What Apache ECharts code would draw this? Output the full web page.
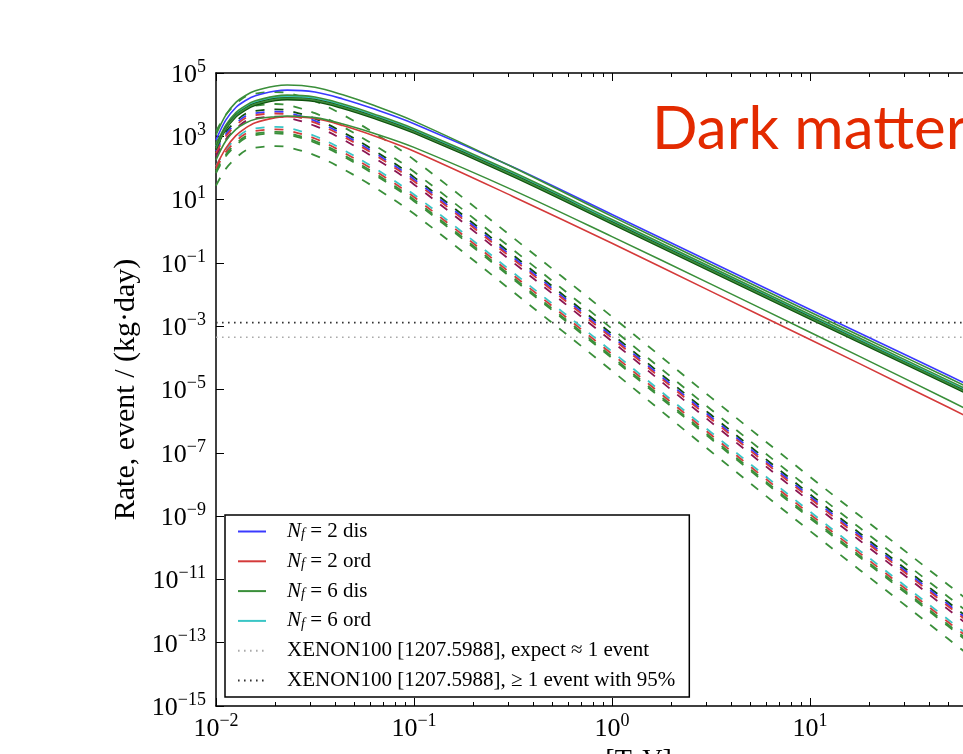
<!DOCTYPE html>
<html>
<head>
<meta charset="utf-8">
<script src="https://cdn.jsdelivr.net/npm/echarts@6/dist/echarts.min.js"></script>
<style>
html,body{margin:0;padding:0;background:#fff;}
#chart{width:963px;height:754px;}
</style>
</head>
<body>
<div id="chart"></div>
<script>
// ---- data ----
// dark matter mass, TeV
const massTeV = [0.01, 0.0112, 0.0126, 0.0141, 0.0158, 0.0200, 0.0229, 0.0316, 0.0437, 0.0631, 0.1, 0.316, 1, 3.16, 10, 31.6, 100];

// solid curves: log10 of rate, event/(kg·day)
const solidGreenTop   = [3.04, 3.67, 4.07, 4.29, 4.44, 4.59, 4.62, 4.55, 4.31, 3.97, 3.48, 2.02, 0.47, -1.05, -2.55, -4.04, -5.53];
const solidBlue       = [2.88, 3.51, 3.91, 4.13, 4.28, 4.43, 4.46, 4.40, 4.18, 3.86, 3.40, 2.03, 0.53, -0.97, -2.47, -3.96, -5.45];
const solidGreenBand  = [2.72, 3.35, 3.75, 3.97, 4.12, 4.27, 4.30, 4.24, 4.02, 3.70, 3.24, 1.87, 0.37, -1.13, -2.63, -4.12, -5.61];
const solidCyan       = [2.68, 3.31, 3.71, 3.93, 4.08, 4.23, 4.26, 4.20, 3.98, 3.66, 3.20, 1.83, 0.33, -1.17, -2.67, -4.16, -5.65];
const solidDkGreen1   = [2.64, 3.27, 3.67, 3.89, 4.04, 4.19, 4.22, 4.16, 3.94, 3.62, 3.16, 1.79, 0.29, -1.21, -2.71, -4.20, -5.69];
const solidMaroon     = [2.61, 3.24, 3.64, 3.86, 4.01, 4.16, 4.19, 4.13, 3.91, 3.59, 3.13, 1.76, 0.26, -1.24, -2.74, -4.23, -5.72];
const solidDkGreen2   = [2.58, 3.21, 3.61, 3.83, 3.98, 4.13, 4.16, 4.10, 3.88, 3.56, 3.10, 1.73, 0.23, -1.27, -2.77, -4.26, -5.75];
const solidGreenBand2 = [2.62, 3.25, 3.65, 3.87, 4.02, 4.17, 4.20, 4.14, 3.92, 3.60, 3.14, 1.77, 0.27, -1.23, -2.73, -4.22, -5.71];
const solidGreenLow   = [2.25, 2.85, 3.22, 3.42, 3.54, 3.62, 3.64, 3.59, 3.39, 3.09, 2.65, 1.30, -0.17, -1.67, -3.19, -4.72, -6.27];
const solidRedLow     = [2.04, 2.62, 3.02, 3.26, 3.43, 3.59, 3.62, 3.56, 3.34, 3.01, 2.53, 1.10, -0.38, -1.90, -3.42, -4.95, -6.50];

// dashed curves: log10 of rate
const dashGreen1  = [3.15, 3.68, 4.02, 4.26, 4.35, 4.40, 4.37, 4.11, 3.68, 3.10, 2.26, -0.20, -2.70, -5.25, -7.76, -10.20, -12.65];
const dashGreen2  = [2.77, 3.30, 3.64, 3.88, 3.97, 4.02, 3.99, 3.73, 3.30, 2.72, 1.88, -0.58, -3.08, -5.63, -8.14, -10.58, -13.03];
const dashDkGreen = [2.60, 3.13, 3.47, 3.71, 3.80, 3.85, 3.82, 3.56, 3.13, 2.55, 1.71, -0.75, -3.25, -5.80, -8.31, -10.75, -13.20];
const dashBlue    = [2.53, 3.06, 3.40, 3.64, 3.73, 3.78, 3.75, 3.49, 3.06, 2.48, 1.64, -0.82, -3.32, -5.87, -8.38, -10.82, -13.27];
const dashRed1    = [2.47, 3.00, 3.34, 3.58, 3.67, 3.72, 3.69, 3.43, 3.00, 2.42, 1.58, -0.88, -3.38, -5.93, -8.44, -10.88, -13.33];
const dashMaroon  = [2.37, 2.90, 3.24, 3.48, 3.57, 3.62, 3.59, 3.33, 2.90, 2.32, 1.48, -0.98, -3.48, -6.03, -8.54, -10.98, -13.43];
const dashCyan    = [2.05, 2.58, 2.92, 3.16, 3.25, 3.30, 3.27, 3.01, 2.58, 2.00, 1.16, -1.30, -3.80, -6.35, -8.86, -11.30, -13.75];
const dashRed2    = [1.97, 2.50, 2.84, 3.08, 3.17, 3.22, 3.19, 2.93, 2.50, 1.92, 1.08, -1.38, -3.88, -6.43, -8.94, -11.38, -13.83];
const dashGreen3  = [1.89, 2.42, 2.76, 3.00, 3.09, 3.14, 3.11, 2.85, 2.42, 1.84, 1.00, -1.46, -3.96, -6.51, -9.02, -11.46, -13.91];
const dashGreen4  = [1.84, 2.37, 2.71, 2.95, 3.04, 3.09, 3.06, 2.80, 2.37, 1.79, 0.95, -1.51, -4.01, -6.56, -9.07, -11.51, -13.96];
const dashGreen5  = [1.44, 1.97, 2.31, 2.55, 2.64, 2.69, 2.66, 2.40, 1.97, 1.39, 0.55, -1.91, -4.41, -6.96, -9.47, -11.91, -14.36];

// XENON100 limits, event/(kg·day)
const xenonExpect1 = 4.5e-4;
const xenon95      = 1.3e-3;

// axis ticks
const xMajorTicks = [0.01, 0.1, 1, 10, 100];
const xMinorTicks = [0.02,0.03,0.04,0.05,0.06,0.07,0.08,0.09,
                     0.2,0.3,0.4,0.5,0.6,0.7,0.8,0.9,
                     2,3,4,5,6,7,8,9,
                     20,30,40,50,60,70,80,90];
const yMajorTicks = [1e-15,1e-13,1e-11,1e-9,1e-7,1e-5,1e-3,1e-1,1e1,1e3,1e5];

const legendNames = {
  nf2dis: '{g|}{it|N}{sub|f}{t| = 2 dis}',
  nf2ord: '{g|}{it|N}{sub|f}{t| = 2 ord}',
  nf6dis: '{g|}{it|N}{sub|f}{t| = 6 dis}',
  nf6ord: '{g|}{it|N}{sub|f}{t| = 6 ord}',
  xe1:    '{g|}{t|XENON100 [1207.5988], expect ≈ 1 event}',
  xe95:   '{g|}{t|XENON100 [1207.5988], ≥ 1 event with 95%}'
};

// ---- colours ----
const C = {
  blue: '#3a3aff', red: '#d43a3a', green: '#3a8f3a', cyan: '#3ac6c6',
  dkgreen: '#0d520d', maroon: '#8a1552', xeLight: '#aaaaaa', xeDark: '#333333'
};

function toData(logs){ return massTeV.map((m,i)=>[m, Math.pow(10, logs[i])]); }
function curve(name, color, logs, dashed, z){
  return {
    type:'line', name:name, data: toData(logs), showSymbol:false, symbol:'none',
    smooth:0.35, silent:true, z: z||2,
    lineStyle:{color:color, width: dashed ? 1.8 : 1.6, type: dashed ? [9,10] : 'solid'},
    itemStyle:{color:color}
  };
}
function hline(name, color, v){
  return {
    type:'line', name:name, data:[[0.01, v],[100, v]], showSymbol:false, symbol:'none', silent:true, z:1,
    lineStyle:{color:color, width:1.6, type:[1.6,4.4]}, itemStyle:{color:color}
  };
}

const serif = 'Liberation Serif';
function powLabel(value){
  const e = Math.round(Math.log10(value));
  const s = (e < 0 ? '\u2212' + (-e) : String(e));
  return '{b|10}{s|' + s + '}';
}
const powRich = {
  b:{fontFamily:serif, fontSize:26, color:'#000', verticalAlign:'bottom', lineHeight:30},
  s:{fontFamily:serif, fontSize:18, color:'#000', verticalAlign:'top', lineHeight:18}
};

const series = [
  // solid curves
  curve('nf2dis', C.blue, solidBlue, false, 4),
  curve('nf2ord', C.red, solidRedLow, false, 4),
  curve('nf6dis', C.green, solidGreenTop, false, 4),
  curve('nf6ord', C.cyan, solidCyan, false, 4),
  curve('nf6dis', C.green, solidGreenBand, false, 4),
  curve('s_dk1', C.dkgreen, solidDkGreen1, false, 4),
  curve('s_mr', C.maroon, solidMaroon, false, 4),
  curve('s_dk2', C.dkgreen, solidDkGreen2, false, 4),
  curve('nf6dis', C.green, solidGreenBand2, false, 4),
  curve('nf6dis', C.green, solidGreenLow, false, 4),
  // dashed curves
  curve('nf6dis', C.green, dashGreen1, true, 3),
  curve('nf6dis', C.green, dashGreen2, true, 3),
  curve('d_dk', C.dkgreen, dashDkGreen, true, 3),
  curve('nf2dis', C.blue, dashBlue, true, 3),
  curve('nf2ord', C.red, dashRed1, true, 3),
  curve('d_mr', C.maroon, dashMaroon, true, 3),
  curve('nf6ord', C.cyan, dashCyan, true, 3),
  curve('nf2ord', C.red, dashRed2, true, 3),
  curve('nf6dis', C.green, dashGreen3, true, 3),
  curve('nf6dis', C.green, dashGreen4, true, 3),
  curve('nf6dis', C.green, dashGreen5, true, 3),
  // XENON100
  hline('xe1', C.xeLight, xenonExpect1),
  hline('xe95', C.xeDark, xenon95)
];

const baseX = {type:'log', logBase:10, min:0.01, max:100, gridIndex:0, splitLine:{show:false}};
const option = {
  animation:false,
  backgroundColor:'#ffffff',
  grid:{left:216, top:73, width:792, height:633, containLabel:false, outerBoundsMode:'none'},
  xAxis:[
    Object.assign({}, baseX, {
      position:'bottom',
      name:'{it|m}{sub|DM} {t|[TeV]}', nameLocation:'middle', nameGap:38,
      nameTextStyle:{rich:{
        it:{fontFamily:serif, fontStyle:'italic', fontSize:28, color:'#000', lineHeight:30},
        sub:{fontFamily:serif, fontStyle:'italic', fontSize:19, color:'#000', verticalAlign:'bottom', lineHeight:30, padding:[10,0,0,0]},
        t:{fontFamily:serif, fontSize:28, color:'#000', lineHeight:30}
      }},
      axisLine:{show:true, lineStyle:{color:'#000', width:1.5}},
      axisTick:{show:true, inside:true, length:8, lineStyle:{color:'#000', width:1}, customValues:xMajorTicks},
      axisLabel:{show:true, margin:6, formatter:powLabel, rich:powRich, customValues:xMajorTicks}
    }),
    Object.assign({}, baseX, {
      position:'bottom',
      axisLine:{show:false},
      axisTick:{show:true, inside:true, length:4, lineStyle:{color:'#000', width:1}, customValues:xMinorTicks},
      axisLabel:{show:false}
    }),
    Object.assign({}, baseX, {
      position:'top',
      axisLine:{show:true, lineStyle:{color:'#000', width:1.5}},
      axisTick:{show:true, inside:true, length:8, lineStyle:{color:'#000', width:1}, customValues:xMajorTicks},
      axisLabel:{show:false}
    }),
    Object.assign({}, baseX, {
      position:'top',
      axisLine:{show:false},
      axisTick:{show:true, inside:true, length:4, lineStyle:{color:'#000', width:1}, customValues:xMinorTicks},
      axisLabel:{show:false}
    })
  ],
  yAxis:[
    {
      type:'log', logBase:10, min:1e-15, max:1e5, position:'left',
      splitLine:{show:false},
      name:'Rate, event / (kg\u00b7day)', nameLocation:'middle', nameGap:75, nameRotate:90,
      nameTextStyle:{fontFamily:serif, fontSize:30, color:'#000'},
      axisLine:{show:true, lineStyle:{color:'#000', width:1.5}},
      axisTick:{show:true, inside:true, length:8, lineStyle:{color:'#000', width:1}, customValues:yMajorTicks},
      axisLabel:{show:true, margin:10, formatter:powLabel, rich:powRich, customValues:yMajorTicks}
    },
    {
      type:'log', logBase:10, min:1e-15, max:1e5, position:'right',
      splitLine:{show:false},
      axisLine:{show:true, lineStyle:{color:'#000', width:1.5}},
      axisTick:{show:true, inside:true, length:8, customValues:yMajorTicks},
      axisLabel:{show:false}
    }
  ],
  legend:{
    show:true, orient:'vertical', left:225, top:515,
    data:['nf2dis','nf2ord','nf6dis','nf6ord','xe1','xe95'],
    selectedMode:false,
    itemWidth:28, itemHeight:14, itemGap:8.8,
    itemStyle:{opacity:0},
    padding:[6,14,6,12],
    borderColor:'#000', borderWidth:1.5, backgroundColor:'#fff', borderRadius:0,
    formatter:function(n){ return legendNames[n]; },
    textStyle:{
      fontFamily:serif, fontSize:21, color:'#000', lineHeight:20,
      rich:{
        g:{width:16},
        it:{fontFamily:serif, fontStyle:'italic', fontSize:21, lineHeight:20},
        sub:{fontFamily:serif, fontStyle:'italic', fontSize:14, verticalAlign:'bottom', lineHeight:20, padding:[6,0,0,0]},
        t:{fontFamily:serif, fontSize:21, lineHeight:20}
      }
    }
  },
  graphic:[{
    type:'text', left:652, top:100, z:100,
    style:{text:'Dark matter', font:'60px Lato', fill:'#e32a00'}
  }],
  series: series.map(s=>Object.assign(s,{xAxisIndex:0, yAxisIndex:0}))
};

const chart = echarts.init(document.getElementById('chart'), null, {renderer:'canvas', width:963, height:754});
chart.setOption(option);
</script>
</body>
</html>
